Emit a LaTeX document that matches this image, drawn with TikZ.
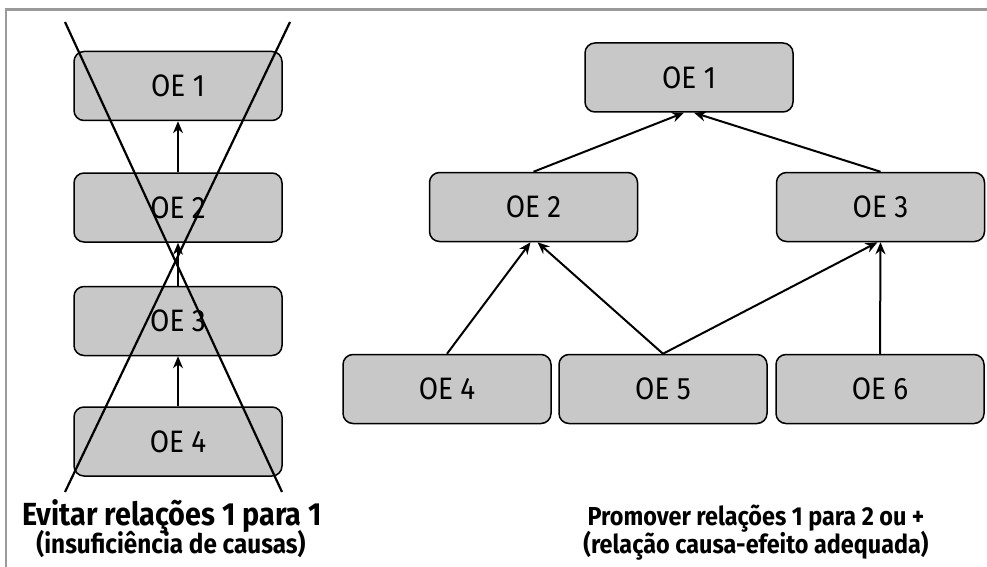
\documentclass[tikz,border=0pt]{standalone}
\usepackage{fontspec}
\setmainfont{Fira Sans}[FakeStretch=0.9]
\usetikzlibrary{arrows.meta}
\definecolor{boxgray}{HTML}{C8C8C8}
\definecolor{framegray}{HTML}{9A9A9A}
\begin{document}
\begin{tikzpicture}[x=1pt,y=-1pt,
  oe/.style={draw=black, line width=1.5pt, fill=boxgray, rounded corners=10pt,
    minimum width=208pt, minimum height=69pt, inner sep=0pt,
    font=\fontsize{31}{36}\selectfont},
  link/.style={draw=black, line width=2pt, -{Stealth[length=12pt,width=10pt]}},
  cross/.style={draw=black, line width=2.2pt},
  bigcap/.style={anchor=base, inner sep=0pt, font=\fontsize{32}{38}\selectfont\bfseries},
  smallcap/.style={anchor=base, inner sep=0pt, font=\fontsize{26}{31}\selectfont\bfseries}]
\useasboundingbox (0,0) rectangle (987,567);

% open frame (top and left edges)
\draw[framegray, line width=2.8pt] (6,567) -- (6,9.5) -- (987,9.5);

% left column: chain of single causes
\node[oe] (a1) at (178,86) {OE 1};
\node[oe] (a2) at (178,207.5) {OE 2};
\node[oe] (a3) at (178,321) {OE 3};
\node[oe] (a4) at (178,441.5) {OE 4};
\draw[link] (a2.north) -- (a1.south);
\draw[link] (a3.north) -- (a2.south);
\draw[link] (a4.north) -- (a3.south);

% crossing-out lines
\coordinate (xtl) at (65,22);
\coordinate (xtr) at (290,22);
\coordinate (xbl) at (65,492);
\coordinate (xbr) at (282,492);
\draw[cross] (xtl) -- (xbr);
\draw[cross] (xtr) -- (xbl);

\node[bigcap] (capl1) at (172,525) {Evitar relações 1 para 1};
\node[smallcap, font=\fontsize{27}{32}\selectfont\bfseries] (capl2) at (171,553) {(insuficiência de causas)};

% right tree: several causes per effect
\node[oe] (r1) at (689,77.5) {OE 1};
\node[oe] (r2) at (533.5,207) {OE 2};
\node[oe] (r3) at (880.5,207) {OE 3};
\node[oe] (r4) at (447,389) {OE 4};
\node[oe] (r5) at (663,389) {OE 5};
\node[oe] (r6) at (880,389) {OE 6};

\draw[link] (r2.north) -- ([xshift=-5pt]r1.south);
\draw[link] (r3.north) -- ([xshift=5pt]r1.south);
\draw[link] (r4.north) -- ([xshift=-3pt]r2.south);
\draw[link] (r5.north) -- ([xshift=4pt]r2.south);
\draw[link] (r5.north) -- ([xshift=-3pt]r3.south);
\draw[link] (r6.north) -- (r3.south);

\node[smallcap] (capr1) at (756,525) {Promover relações 1 para 2 ou +};
\node[smallcap] (capr2) at (756,553) {(relação causa-efeito adequada)};
\end{tikzpicture}
\end{document}
